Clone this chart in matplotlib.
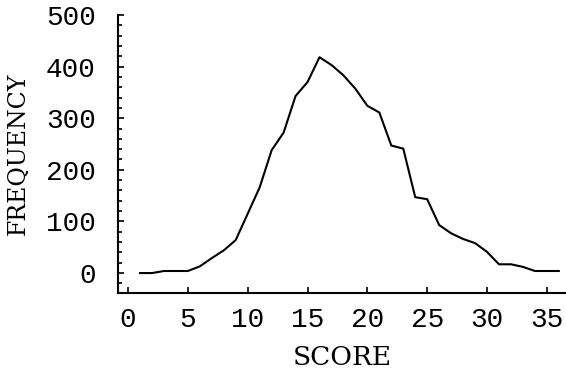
import matplotlib.pyplot as plt
from matplotlib.ticker import MultipleLocator

score = list(range(1, 37))
frequency = [
    0, 0, 4, 4, 4, 13, 29, 44, 64, 115,
    166, 238, 272, 343, 370, 418, 403, 383, 357, 324,
    311, 247, 241, 147, 143, 93, 77, 66, 58, 41,
    17, 17, 12, 4, 4, 4,
]

x_ticks = [0, 5, 10, 15, 20, 25, 30, 35]
y_ticks = [0, 100, 200, 300, 400, 500]

plt.rcParams["font.family"] = ["Liberation Mono", "DejaVu Sans Mono"]

fig = plt.figure(figsize=(5.66, 3.73), dpi=100)
ax = fig.add_axes([0.2085, 0.2145, 0.7915, 0.7455])

ax.plot(score, frequency, color="black", lw=1.5)

ax.set_xlim(-0.84, 36.6)
ax.set_ylim(-38.6, 500)
ax.set_xticks(x_ticks)
ax.set_yticks(y_ticks)
ax.yaxis.set_minor_locator(MultipleLocator(20))

for side in ("top", "right"):
    ax.spines[side].set_visible(False)
for side in ("left", "bottom"):
    ax.spines[side].set_linewidth(1.5)

ax.tick_params(axis="both", which="major", direction="in", length=4,
               width=1.2, labelsize=20)
ax.tick_params(axis="y", which="minor", direction="in", length=3, width=1.2)
ax.tick_params(axis="y", which="major", pad=16)
ax.tick_params(axis="x", which="major", pad=10)

ax.set_xlabel("SCORE", fontsize=19, fontfamily="DejaVu Serif", labelpad=9)
ax.set_ylabel("FREQUENCY", fontsize=17, fontfamily="DejaVu Serif", labelpad=12)

fig.savefig("out.png", dpi=100)
